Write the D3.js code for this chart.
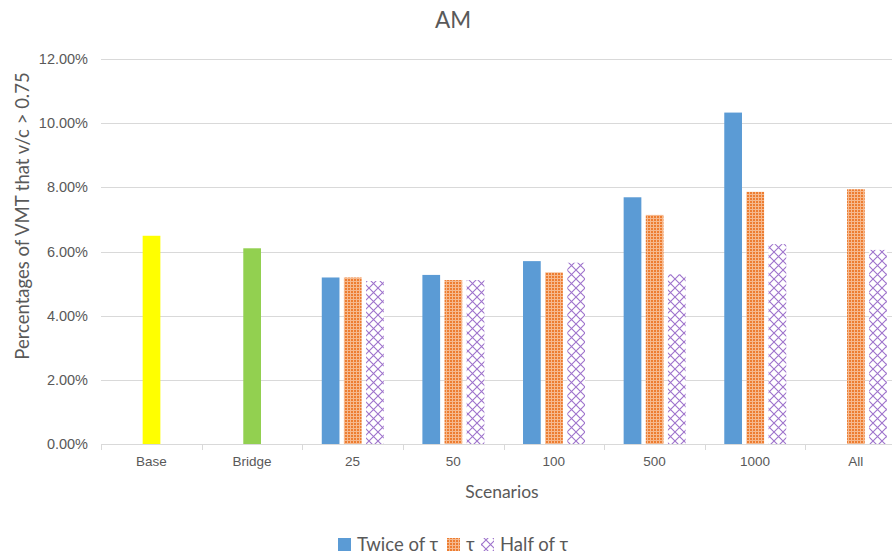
<!DOCTYPE html>
<html>
<head>
<meta charset="utf-8">
<script src="https://cdn.jsdelivr.net/npm/d3@7"></script>
<style>
  html, body { margin: 0; padding: 0; background: #fff; overflow: hidden; }
  svg { display: block; font-family: Lato, "Open Sans", sans-serif; }
</style>
</head>
<body>
<svg id="chart" width="892" height="554"></svg>
<script>
// Scenario categories and the three sensitivity series (percent of VMT with v/c > 0.75)
const categories = ["Base", "Bridge", "25", "50", "100", "500", "1000", "All"];
const seriesNames = ["Twice of τ", "τ", "Half of τ"];
const twiceTau = [null, null, 5.19, 5.27, 5.70, 7.69, 10.33, null];
const tau      = [6.49, 6.10, 5.19, 5.11, 5.35, 7.14, 7.86, 7.94];
const halfTau  = [null, null, 5.08, 5.11, 5.65, 5.29, 6.23, 6.05];
const yTicks   = [0, 2, 4, 6, 8, 10, 12];

// Per-point fill overrides for the reference scenarios
const pointColors = { "Base": "#FFFF00", "Bridge": "#92D050" };

const svg = d3.select("#chart");
const margin = { left: 101, right: 906, top: 59, bottom: 444 };

const x = d3.scaleBand().domain(categories).range([margin.left, margin.right]).padding(0);
const xInner = d3.scaleBand().domain(seriesNames)
  .range([x.bandwidth() * 0.194, x.bandwidth() * 0.81]).paddingInner(0.2);
const y = d3.scaleLinear().domain([0, 12]).range([margin.bottom, margin.top]);

// Fill patterns
const defs = svg.append("defs");
const pOrange = defs.append("pattern").attr("id", "dotOrange")
  .attr("width", 3).attr("height", 3).attr("patternUnits", "userSpaceOnUse");
pOrange.append("rect").attr("width", 3).attr("height", 3).attr("fill", "#ED7D31");
pOrange.append("rect").attr("x", 2).attr("y", 0).attr("width", 1).attr("height", 3).attr("fill", "#F6B98E");
pOrange.append("rect").attr("x", 0).attr("y", 2).attr("width", 3).attr("height", 1).attr("fill", "#F6B98E");

const pPurple = defs.append("pattern").attr("id", "crossPurple")
  .attr("width", 9).attr("height", 9).attr("patternUnits", "userSpaceOnUse");
pPurple.append("rect").attr("width", 9).attr("height", 9).attr("fill", "#fff");
pPurple.append("path").attr("d", "M0,0L9,9M9,0L0,9")
  .attr("stroke", "#9E72CC").attr("stroke-width", 1.1).attr("fill", "none");

const fills = { "Twice of τ": "#5B9BD5", "τ": "url(#dotOrange)", "Half of τ": "url(#crossPurple)" };

// Gridlines
svg.append("g").selectAll("line").data(yTicks.slice(1)).join("line")
  .attr("x1", margin.left).attr("x2", 892)
  .attr("y1", d => Math.round(y(d)) + 0.5).attr("y2", d => Math.round(y(d)) + 0.5)
  .attr("stroke", "#D9D9D9").attr("stroke-width", 1);

// Y axis labels
const yAxis = d3.axisLeft(y).tickValues(yTicks).tickFormat(d => d3.format(".2f")(d) + "%").tickSize(0).tickPadding(13);
const gy = svg.append("g").attr("transform", `translate(${margin.left},0)`).call(yAxis);
gy.select(".domain").remove();
gy.selectAll("text").attr("fill", "#595959").style("font-size", "14.5px");

// Bars
const series = [
  { name: "Twice of τ", values: twiceTau },
  { name: "τ", values: tau },
  { name: "Half of τ", values: halfTau }
];
const barData = [];
series.forEach(s => s.values.forEach((v, i) => {
  if (v != null) barData.push({ series: s.name, cat: categories[i], value: v });
}));
svg.append("g").selectAll("rect").data(barData).join("rect")
  .attr("x", d => x(d.cat) + xInner(d.series))
  .attr("width", xInner.bandwidth())
  .attr("y", d => y(d.value))
  .attr("height", d => y(0) - y(d.value))
  .attr("fill", d => pointColors[d.cat] || fills[d.series]);

// X axis
const xAxis = d3.axisBottom(x).tickSize(0).tickPadding(12);
const gx = svg.append("g").attr("transform", `translate(0,${margin.bottom + 0.5})`).call(xAxis);
gx.select(".domain").attr("stroke", "#D9D9D9").attr("d", `M${margin.left},0H${margin.right}`);
gx.selectAll("text").attr("fill", "#595959").style("font-size", "13.5px");
// boundary ticks between categories
svg.append("g").selectAll("line").data(categories).join("line")
  .attr("x1", d => Math.round(x(d)) + 0.5).attr("x2", d => Math.round(x(d)) + 0.5)
  .attr("y1", margin.bottom).attr("y2", margin.bottom + 6)
  .attr("stroke", "#D9D9D9");

// Titles
svg.append("text").attr("x", 453).attr("y", 28).attr("text-anchor", "middle")
  .attr("fill", "#595959").style("font-size", "22.5px").text("AM");
svg.append("text").attr("x", 502).attr("y", 498).attr("text-anchor", "middle")
  .attr("fill", "#595959").style("font-size", "17.5px").text("Scenarios");
svg.append("text").attr("transform", "translate(29,216) rotate(-90)").attr("text-anchor", "middle")
  .attr("fill", "#595959").style("font-size", "18.5px").text("Percentages of VMT that v/c > 0.75");

// Legend
const legendItems = [
  { name: "Twice of τ", x: 338 },
  { name: "τ", x: 447 },
  { name: "Half of τ", x: 481 }
];
const lg = svg.append("g");
legendItems.forEach(it => {
  lg.append("rect").attr("x", it.x).attr("y", 538).attr("width", 13).attr("height", 13)
    .attr("fill", fills[it.name]);
  lg.append("text").attr("x", it.x + 19).attr("y", 551)
    .attr("fill", "#595959").style("font-size", "18.5px").text(it.name);
});
</script>
</body>
</html>
